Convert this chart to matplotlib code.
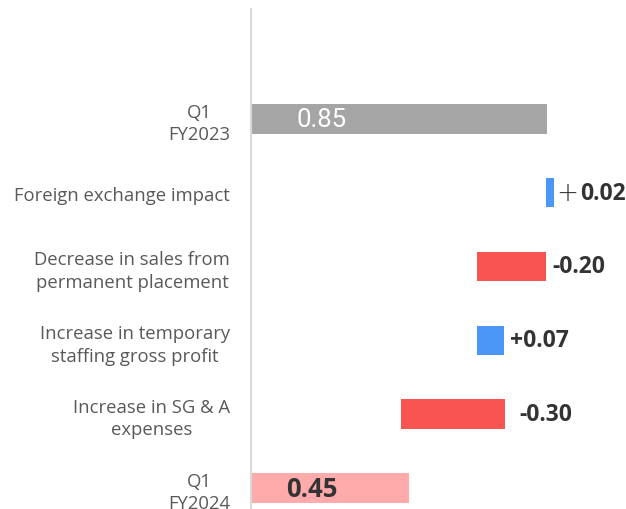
import matplotlib
matplotlib.use("Agg")
import matplotlib.pyplot as plt

# waterfall of quarterly figures
categories = ["Q1\nFY2023", "Foreign exchange impact",
              "Decrease in sales from\npermanent placement",
              "Increase in temporary\nstaffing gross profit",
              "Increase in SG & A\nexpenses", "Q1\nFY2024"]
bar_start = [0.0, 0.847, 0.649, 0.649, 0.431, 0.0]
bar_width = [0.85, 0.023, 0.198, 0.078, 0.299, 0.454]
value_labels = ["0.85", "0.02", "-0.20", "+0.07", "-0.30", "0.45"]
bar_colors = ["#A5A5A5", "#4A97F8", "#F85552", "#4A97F8", "#F85552", "#FFABAB"]

plt.rcParams["font.family"] = ["Open Sans", "DejaVu Sans"]

fig = plt.figure(figsize=(6.26, 5.10), dpi=100)
ax = fig.add_axes([251 / 626, 0.0, 375 / 626, 500 / 510])

ypos = list(range(len(categories)))
ax.barh(ypos, bar_width, left=bar_start, height=0.4, color=bar_colors)

ax.set_xlim(0, 375 / 348)
ax.set_ylim(5.284, -1.486)

ax.set_yticks(ypos)
ax.set_yticklabels(categories, fontsize=13.3, color="#595959")
for lab in ax.get_yticklabels():
    lab.set_multialignment("center")
    lab.set_linespacing(1.3)
ax.tick_params(axis="y", length=0, pad=15)
ax.set_xticks([])

for side in ["top", "right", "bottom"]:
    ax.spines[side].set_visible(False)
ax.spines["left"].set_color("#D9D9D9")
ax.spines["left"].set_linewidth(1.5)

# totals: labels inside the bars
ax.text(0.13, 0, value_labels[0], color="white", fontsize=18.5,
        family=["Roboto", "DejaVu Sans"], va="center", ha="left")
ax.text(0.10, 5, value_labels[5], color="#333333", fontsize=18.5,
        fontweight="bold", va="center", ha="left")

# changes: labels right of the bars
offsets = {1: 2, 2: 5, 3: 4, 4: 10}
for i, off in offsets.items():
    right = bar_start[i] + bar_width[i]
    txt = value_labels[i]
    if i == 1:
        ax.annotate("+", (right, i), xytext=(off, 0), textcoords="offset points",
                    fontsize=19, color="#333333", va="center", ha="left",
                    family=["DejaVu Sans"], fontweight="light")
        off += 17
    ax.annotate(txt, (right, i), xytext=(off, 0), textcoords="offset points",
                fontsize=16.5, fontweight="bold", color="#333333",
                va="center", ha="left")

fig.savefig("out.png", dpi=100)
